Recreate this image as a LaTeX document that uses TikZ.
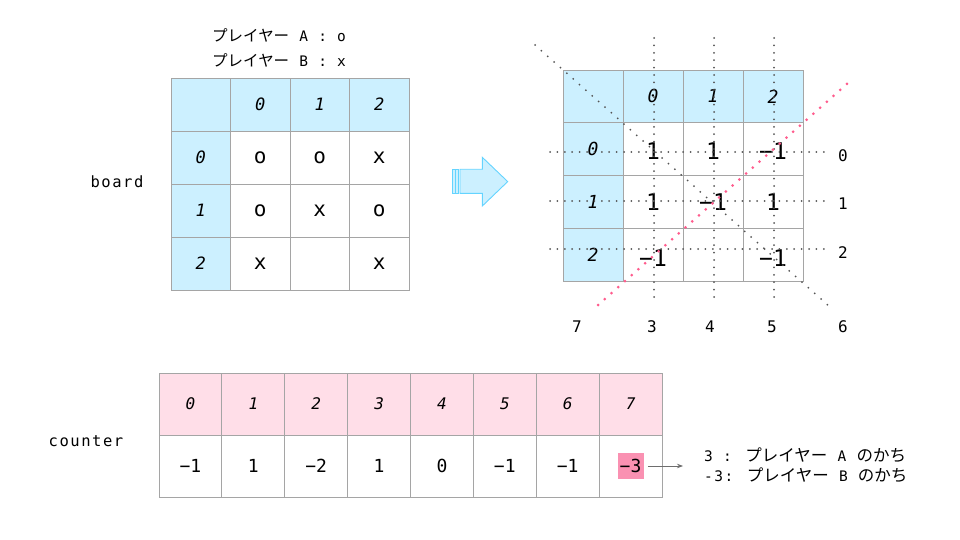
\documentclass[tikz,border=0pt]{standalone}
\usepackage{fontspec}
\setmainfont{DejaVu Sans Mono}
\setmonofont{DejaVu Sans Mono}
\newfontfamily\latin[LetterSpace=10]{DejaVu Sans Mono}
\newfontfamily\jpfont{Noto Sans CJK JP}
\usetikzlibrary{arrows.meta}
\definecolor{cellblue}{RGB}{204,240,255}
\definecolor{cellpink}{RGB}{255,222,232}
\definecolor{hlpink}{RGB}{250,145,178}
\definecolor{gridgray}{RGB}{165,165,165}
\definecolor{dotgray}{RGB}{85,85,85}
\definecolor{dotpink}{RGB}{255,92,141}
\definecolor{arrowedge}{RGB}{100,212,255}
\definecolor{connGray}{RGB}{110,110,110}
\begin{document}
\begin{tikzpicture}[x=1pt,y=-1pt,
  gridcell/.style={draw=gridgray, line width=0.9pt, inner sep=0pt, outer sep=0pt},
  bandfill/.style={inner sep=0pt, outer sep=0pt, anchor=north west},
  hdr/.style={inner sep=0pt, font=\fontsize{17}{17}\selectfont\itshape},
  chdr/.style={inner sep=0pt, font=\fontsize{16}{16}\selectfont\itshape},
  mk/.style={inner sep=0pt, font=\fontsize{21}{21}\selectfont},
  val/.style={inner sep=0pt, font=\fontsize{23}{23}\selectfont},
  cval/.style={inner sep=0pt, font=\fontsize{18}{18}\selectfont},
  lbl/.style={inner sep=0pt, font=\latin\fontsize{15.5}{15.5}\selectfont},
  side/.style={inner sep=0pt, font=\fontsize{16}{16}\selectfont},
  graydots/.style={dotgray, line width=2pt, line cap=round, dash pattern=on 0pt off 7.4pt},
  diagdots/.style={dotgray, line width=2pt, line cap=round, dash pattern=on 0pt off 8.5pt},
  pinkdots/.style={dotpink, line width=3pt, line cap=round, dash pattern=on 0pt off 9pt},
  bigarrow/.style={fill=cellblue, draw=arrowedge, line width=0.9pt},
  pointer/.style={connGray, line width=0.8pt, -{Stealth[length=6pt,width=4.5pt]}}
]
\useasboundingbox (0,0) rectangle (960,540);

% ---------------- top legend ----------------
\node[anchor=west, inner sep=0pt] (legA) at (212,35.5)
  {{\jpfont\fontsize{15.5}{15.5}\selectfont プレイヤー}{\latin\fontsize{14.5}{14.5}\selectfont{} A : o}};
\node[anchor=west, inner sep=0pt] (legB) at (212,60)
  {{\jpfont\fontsize{15.5}{15.5}\selectfont プレイヤー}{\latin\fontsize{14.5}{14.5}\selectfont{} B : x}};

% ---------------- left board ----------------
\node[lbl] (boardlbl) at (117,182) {board};
\node[bandfill, fill=cellblue, minimum width=238pt, minimum height=53pt] (LtopBand) at (171,78) {};
\node[bandfill, fill=cellblue, minimum width=59.5pt, minimum height=212pt] (LsideBand) at (171,78) {};
\foreach \r in {0,...,3}{\foreach \c in {0,...,3}{
  \node[gridcell, minimum width=59.5pt, minimum height=53pt] (L\r\c) at ({171+59.5*(\c+0.5)},{78+53*(\r+0.5)}) {};
}}
\node[hdr] (lh1) at (L01) {0};
\node[hdr] (lh2) at (L02) {1};
\node[hdr] (lh3) at (L03) {2};
\node[hdr] (lv1) at (L10) {0};
\node[hdr] (lv2) at (L20) {1};
\node[hdr] (lv3) at (L30) {2};
\node[mk] (m11) at (L11) {o};
\node[mk] (m12) at (L12) {o};
\node[mk] (m13) at (L13) {x};
\node[mk] (m21) at (L21) {o};
\node[mk] (m22) at (L22) {x};
\node[mk] (m23) at (L23) {o};
\node[mk] (m31) at (L31) {x};
\node[mk] (m33) at (L33) {x};

% ---------------- big arrow ----------------
\draw[bigarrow] (452.3,169.3) rectangle (455.5,193.3);
\draw[bigarrow] (455.5,169.3) rectangle (458.7,193.3);
\draw[bigarrow] (460,169.3) -- (482.3,169.3) -- (482.3,157.3) -- (507.7,181.6)
   -- (482.3,206) -- (482.3,193.3) -- (460,193.3) -- cycle;

% ---------------- right board ----------------
\node[bandfill, fill=cellblue, minimum width=240pt, minimum height=53pt] (RtopBand) at (563,70) {};
\node[bandfill, fill=cellblue, minimum width=60pt, minimum height=211pt] (RsideBand) at (563,70) {};
\foreach \r in {0,...,3}{\foreach \c in {0,...,3}{
  \node[gridcell, minimum width=60pt, minimum height=52.75pt] (R\r\c) at ({563+60*(\c+0.5)},{70+52.75*(\r+0.5)}) {};
}}
\node[hdr,font=\fontsize{18}{18}\selectfont\itshape] (rh1) at (R01) {0};
\node[hdr,font=\fontsize{18}{18}\selectfont\itshape] (rh2) at (R02) {1};
\node[hdr,font=\fontsize{18}{18}\selectfont\itshape] (rh3) at (R03) {2};
\node[hdr,font=\fontsize{18}{18}\selectfont\itshape] (rv1) at (R10) {0};
\node[hdr,font=\fontsize{18}{18}\selectfont\itshape] (rv2) at (R20) {1};
\node[hdr,font=\fontsize{18}{18}\selectfont\itshape] (rv3) at (R30) {2};
\node[val] (v11) at ([yshift=-2pt]R11) {1};
\node[val] (v12) at ([yshift=-2pt]R12) {1};
\node[val] (v13) at ([yshift=-2pt]R13) {−1};
\node[val] (v21) at (R21) {1};
\node[val] (v22) at (R22) {−1};
\node[val] (v23) at (R23) {1};
\node[val] (v31) at ([yshift=-3pt]R31) {−1};
\node[val] (v33) at ([yshift=-3pt]R33) {−1};

% dotted guide lines
\coordinate (vt3) at (654,38);  \coordinate (vb3) at (654,303);
\coordinate (vt4) at (714,38);  \coordinate (vb4) at (714,303);
\coordinate (vt5) at (774,38);  \coordinate (vb5) at (774,303);
\coordinate (hl0) at (550,152); \coordinate (hr0) at (825,152);
\coordinate (hl1) at (550,201); \coordinate (hr1) at (825,201);
\coordinate (hl2) at (550,249); \coordinate (hr2) at (825,249);
\coordinate (dg0) at (535,45);  \coordinate (dg1) at (830,307);
\coordinate (dp0) at (598,305); \coordinate (dp1) at (849,82);
\draw[graydots] (vt3) -- (vb3);
\draw[graydots] (vt4) -- (vb4);
\draw[graydots] (vt5) -- (vb5);
\draw[graydots] (hl0) -- (hr0);
\draw[graydots] (hl1) -- (hr1);
\draw[graydots] (hl2) -- (hr2);
\draw[diagdots] (dg0) -- (dg1);
\draw[pinkdots] (dp0) -- (dp1);

\node[side] (s0) at (843,156) {0};
\node[side] (s1) at (843,204) {1};
\node[side] (s2) at (843,253) {2};
\node[side] (s7) at (577,327) {7};
\node[side] (s3) at (652,327) {3};
\node[side] (s4) at (710,327) {4};
\node[side] (s5) at (772,327) {5};
\node[side] (s6) at (843,327) {6};

% ---------------- counter ----------------
\node[lbl] (counterlbl) at (86,441) {counter};
\node[bandfill, fill=cellpink, minimum width=503pt, minimum height=62pt] (CtopBand) at (159,373) {};
\foreach \r in {0,1}{\foreach \c in {0,...,7}{
  \node[gridcell, minimum width=62.875pt, minimum height=62pt] (C\r\c) at ({159+62.875*(\c+0.5)},{373+62*(\r+0.5)}) {};
}}
\foreach \c in {0,...,7}{ \node[chdr] (ch\c) at (C0\c) {\c}; }
\node[cval] (cv0) at (C10) {−1};
\node[cval] (cv1) at (C11) {1};
\node[cval] (cv2) at (C12) {−2};
\node[cval] (cv3) at (C13) {1};
\node[cval] (cv4) at (C14) {0};
\node[cval] (cv5) at (C15) {−1};
\node[cval] (cv6) at (C16) {−1};
\node[cval, fill=hlpink, minimum width=26pt, minimum height=26pt] (hl) at (C17) {−3};

\node[anchor=west, inner sep=0pt, align=left, font=\fontsize{14}{20.5}\selectfont] (result) at (704,465)
  {{\latin\fontsize{14.5}{20.5}\selectfont 3 : }{\jpfont\fontsize{16.5}{20.5}\selectfont プレイヤー}{\latin\fontsize{14.5}{20.5}\selectfont{} A }{\jpfont\fontsize{16.5}{20.5}\selectfont のかち}\\
   {\latin\fontsize{14.5}{20.5}\selectfont -3: }{\jpfont\fontsize{16.5}{20.5}\selectfont プレイヤー}{\latin\fontsize{14.5}{20.5}\selectfont{} B }{\jpfont\fontsize{16.5}{20.5}\selectfont のかち}};
\draw[pointer, shorten <=4pt, shorten >=21pt] (hl.east) -- (hl.east -| result.west);
\end{tikzpicture}
\end{document}
